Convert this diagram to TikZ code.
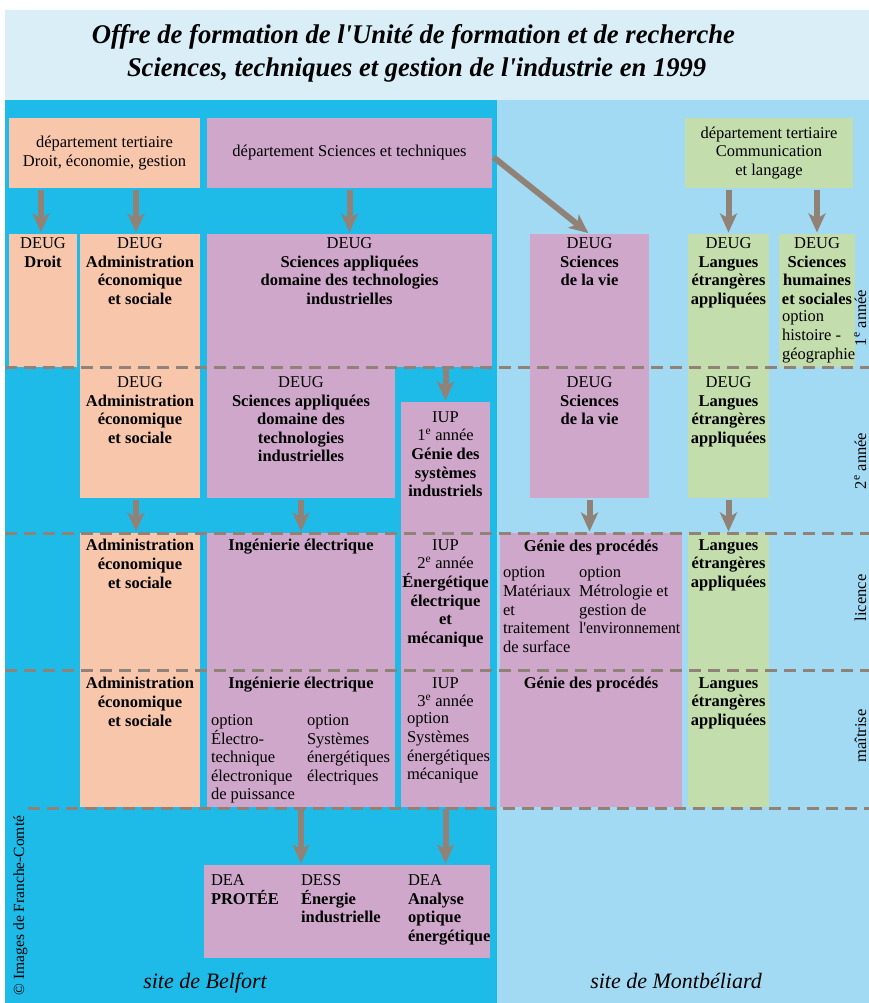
\documentclass[tikz,border=0pt]{standalone}
\usepackage{fontspec}
\setmainfont{Liberation Serif}[Ligatures=TeXOff]
\usetikzlibrary{arrows.meta}
\definecolor{titlebg}{HTML}{DAEEF8}
\definecolor{dblue}{HTML}{1EBBE9}
\definecolor{lblue}{HTML}{A2DAF3}
\definecolor{peach}{HTML}{F7C6AB}
\definecolor{mauve}{HTML}{CFA7CB}
\definecolor{vert}{HTML}{C3DDAD}
\definecolor{taupe}{HTML}{918278}
\newcommand\tb[1]{\textbf{#1}}
\newcommand\mkbox[6]{\node[boxnode, fill=#2, minimum width={#5-#3}, minimum height={#6-#4}] (#1) at (#3,#4) {};}
\tikzset{
 boxnode/.style={inner sep=0pt, outer sep=0pt, anchor=north west, draw=none},
 txt/.style={inner sep=0pt, outer sep=0pt, align=center, font=\fontsize{16.5}{18.6}\selectfont},
 ltxt/.style={txt, align=left, anchor=north west},
 ctxt/.style={txt, anchor=north},
 arr/.style={draw=taupe, line width=6pt, -{Stealth[length=19pt,width=17pt,inset=5pt]}, shorten <=2pt, shorten >=1.5pt},
 sepline/.style={draw=taupe, line width=3pt, dash pattern=on 12pt off 7pt},
 yearlbl/.style={inner sep=0pt, outer sep=0pt, rotate=90, anchor=base, font=\fontsize{16.5}{18.6}\selectfont},
 sitelbl/.style={inner sep=0pt, outer sep=0pt, anchor=base, font=\fontsize{22}{24}\selectfont\itshape},
 titlelbl/.style={inner sep=0pt, outer sep=0pt, anchor=base, font=\fontsize{27}{30}\selectfont\bfseries\itshape},
}
\begin{document}
\begin{tikzpicture}[x=1pt,y=-1pt]
\useasboundingbox (0,0) rectangle (869,1003);
\fill[white] (0,0) rectangle (869,1003);
\fill[titlebg] (5,10) rectangle (869,100);
\fill[dblue] (5,100) rectangle (497,1003);
\fill[lblue] (497,100) rectangle (869,1003);

% title
\node[titlelbl] (title1) at (413.5,44) {\resizebox{643pt}{\height}{Offre de formation de l'Unité de formation et de recherche}};
\node[titlelbl] (title2) at (416.5,77) {\resizebox{579pt}{\height}{Sciences, techniques et gestion de l'industrie en 1999}};

% departments
\mkbox{dA}{peach}{9}{118}{200}{188}
\mkbox{dST}{mauve}{207}{118}{492}{188}
\mkbox{dCL}{vert}{685}{118}{853}{188}
% row 1
\mkbox{droit1}{peach}{9}{234}{77}{367}
\mkbox{aes1}{peach}{80}{234}{200}{367}
\mkbox{sa1}{mauve}{207}{234}{492}{367}
\mkbox{sv1}{mauve}{530}{234}{649}{367}
\mkbox{lea1}{vert}{688}{234}{769}{367}
\mkbox{sh1}{vert}{779}{234}{855}{367}
% row 2
\mkbox{aes2}{peach}{80}{367}{200}{498}
\mkbox{sa2}{mauve}{207}{367}{395}{498}
\mkbox{iup1}{mauve}{401}{402}{490}{533}
\mkbox{sv2}{mauve}{530}{367}{649}{498}
\mkbox{lea2}{vert}{688}{367}{769}{498}
% row 3
\mkbox{aes3}{peach}{80}{533}{200}{670}
\mkbox{ie3}{mauve}{207}{533}{395}{670}
\mkbox{iup2}{mauve}{401}{533}{490}{670}
\mkbox{gp3}{mauve}{500}{533}{682}{670}
\mkbox{lea3}{vert}{688}{533}{769}{670}
% row 4
\mkbox{aes4}{peach}{80}{670}{200}{807}
\mkbox{ie4}{mauve}{207}{670}{395}{807}
\mkbox{iup3}{mauve}{401}{670}{490}{807}
\mkbox{gp4}{mauve}{500}{670}{682}{807}
\mkbox{lea4}{vert}{688}{670}{769}{807}
% row 5
\mkbox{dea}{mauve}{204}{865}{490}{958}

% texts row 0
\node[txt] (tA) at (dA.center) {département tertiaire\\Droit, économie, gestion};
\node[txt] (tST) at (dST.center) {département Sciences et techniques};
\node[txt] (tCL) at (dCL.center) {département tertiaire\\Communication\\et langage};
% row 1
\node[ctxt] (tdroit1) at (43,237.5) {DEUG\\\tb{Droit}};
\node[ctxt] (taes1) at (140,237.5) {DEUG\\\tb{Administration}\\\tb{économique}\\\tb{et sociale}};
\node[ctxt] (tsa1) at (349.5,237.5) {DEUG\\\tb{Sciences appliquées}\\\tb{domaine des technologies}\\\tb{industrielles}};
\node[ctxt] (tsv1) at (589.5,237.5) {DEUG\\\tb{Sciences}\\\tb{de la vie}};
\node[ctxt] (tlea1) at (728.5,237.5) {DEUG\\\tb{Langues}\\\tb{étrangères}\\\tb{appliquées}};
\node[ctxt] (tsh1) at (817,237.5) {DEUG\\\tb{Sciences}\\\tb{humaines}\\\tb{et sociales}};
\node[ltxt] (tsh1o) at (782,311) {option\\histoire -\\géographie};
% row 2
\node[ctxt] (taes2) at (140,376.5) {DEUG\\\tb{Administration}\\\tb{économique}\\\tb{et sociale}};
\node[ctxt] (tsa2) at (301,376.5) {DEUG\\\tb{Sciences appliquées}\\\tb{domaine des}\\\tb{technologies}\\\tb{industrielles}};
\node[ctxt] (tiup1) at (445.5,411.5) {IUP\\1\textsuperscript{e} année\\\tb{Génie des}\\\tb{systèmes}\\\tb{industriels}};
\node[ctxt] (tsv2) at (589.5,376.5) {DEUG\\\tb{Sciences}\\\tb{de la vie}};
\node[ctxt] (tlea2) at (728.5,376.5) {DEUG\\\tb{Langues}\\\tb{étrangères}\\\tb{appliquées}};
% row 3
\node[ctxt] (taes3) at (140,539.5) {\tb{Administration}\\\tb{économique}\\\tb{et sociale}};
\node[ctxt] (tie3) at (301,539.5) {\tb{Ingénierie électrique}};
\node[ctxt] (tiup2) at (445.5,539.5) {IUP\\2\textsuperscript{e} année\\\tb{Énergétique}\\\tb{électrique}\\\tb{et}\\\tb{mécanique}};
\node[ctxt] (tgp3) at (591,540) {\tb{Génie des procédés}};
\node[ltxt] (tgp3a) at (503,567) {option\\Matériaux\\et\\traitement\\de surface};
\node[ltxt] (tgp3b) at (579,567) {option\\Métrologie et\\gestion de\\\scalebox{0.95}[1]{l'environnement}};
\node[ctxt] (tlea3) at (728.5,539.5) {\tb{Langues}\\\tb{étrangères}\\\tb{appliquées}};
% row 4
\node[ctxt] (taes4) at (140,677.5) {\tb{Administration}\\\tb{économique}\\\tb{et sociale}};
\node[ctxt] (tie4) at (301,677.5) {\tb{Ingénierie électrique}};
\node[ltxt] (tie4a) at (211,714.5) {option\\Électro-\\technique\\électronique\\de puissance};
\node[ltxt] (tie4b) at (307,714.5) {option\\Systèmes\\énergétiques\\électriques};
\node[ctxt] (tiup3) at (445.5,677.5) {IUP\\3\textsuperscript{e} année};
\node[ltxt] (tiup3o) at (407,713) {option\\Systèmes\\énergétiques\\mécanique};
\node[ctxt] (tgp4) at (591,677.5) {\tb{Génie des procédés}};
\node[ctxt] (tlea4) at (728.5,677.5) {\tb{Langues}\\\tb{étrangères}\\\tb{appliquées}};
% row 5
\node[ltxt] (tdea1) at (211,874.5) {DEA\\\tb{PROTÉE}};
\node[ltxt] (tdea2) at (301,874.5) {DESS\\\tb{Énergie}\\\tb{industrielle}};
\node[ltxt] (tdea3) at (408,874.5) {DEA\\\tb{Analyse}\\\tb{optique}\\\tb{énergétique}};

% arrows
\draw[arr] ([xshift=-2pt]dA.south -| droit1.north) -- ([xshift=-2pt]droit1.north);
\draw[arr] ([xshift=-4pt]dA.south -| aes1.north) -- ([xshift=-4pt]aes1.north);
\draw[arr] (dST.south -| sa1.north) -- (sa1.north);
\draw[arr] ([yshift=-3pt]dST.east) -- (sv1.north);
\draw[arr] (dCL.south -| lea1.north) -- (lea1.north);
\draw[arr] (dCL.south -| sh1.north) -- (sh1.north);
\draw[arr] (sa1.south -| iup1.north) -- (iup1.north);
\draw[arr] ([xshift=-4pt]aes2.south) -- ([xshift=-4pt]aes3.north);
\draw[arr] (sa2.south) -- (ie3.north);
\draw[arr] (sv2.south) -- (sv2.south |- gp3.north);
\draw[arr] (lea2.south) -- (lea3.north);
\draw[arr] (ie4.south) -- (ie4.south |- dea.north);
\draw[arr] (iup3.south) -- (iup3.south |- dea.north);

% separators
\draw[sepline] (5,367) -- (869,367);
\draw[sepline] (5,533) -- (869,533);
\draw[sepline] (5,670) -- (869,670);
\draw[sepline] (28,808) -- (869,808);

% year labels
\node[yearlbl] (y1) at (866,318) {1\textsuperscript{e} année};
\node[yearlbl] (y2) at (866,461) {2\textsuperscript{e} année};
\node[yearlbl] (y3) at (866,598) {licence};
\node[yearlbl] (y4) at (866,736) {maîtrise};

% sites and credit
\node[sitelbl] (belfort) at (205,988) {site de Belfort};
\node[sitelbl] (montb) at (676,988) {site de Montbéliard};
\node[inner sep=0pt, outer sep=0pt, rotate=90, anchor=base west, font=\fontsize{15.5}{17}\selectfont] (credit) at (24,995) {© Images de Franche-Comté};
\end{tikzpicture}
\end{document}
